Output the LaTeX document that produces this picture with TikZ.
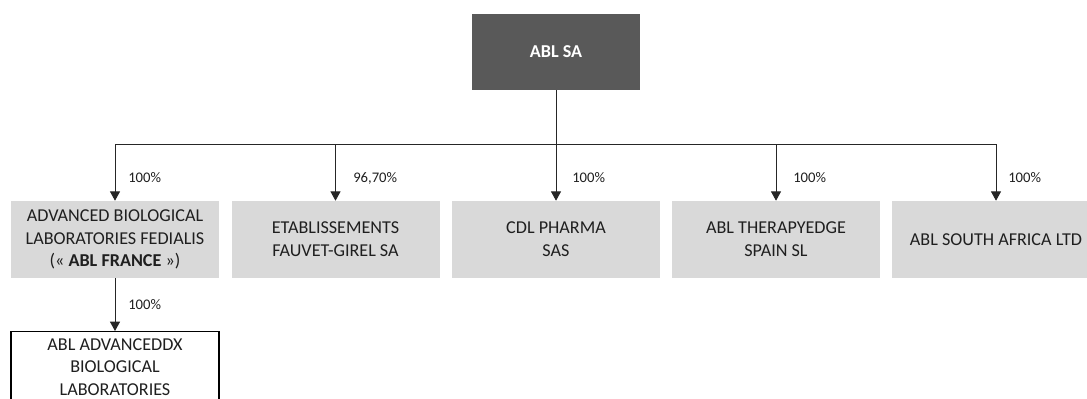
\documentclass[tikz,border=0pt]{standalone}
\usepackage{fontspec}
\setmainfont{Carlito}
\usetikzlibrary{arrows.meta}
\definecolor{topgrey}{HTML}{595959}
\definecolor{boxgrey}{HTML}{D9D9D9}
\definecolor{txt}{HTML}{1F1F1F}
\begin{document}
\begin{tikzpicture}[x=0.75pt,y=-0.75pt,
  company/.style={rectangle, fill=boxgrey, minimum width=156pt, minimum height=57.75pt,
    inner sep=0pt, align=center, text=txt, font=\fontsize{13.6}{17}\selectfont},
  topbox/.style={rectangle, fill=topgrey, minimum width=126pt, minimum height=57pt,
    inner sep=0pt, text=white, font=\fontsize{13.6}{17}\selectfont\bfseries},
  subbox/.style={rectangle, draw=black, line width=1.1pt, fill=white, minimum width=156pt,
    inner xsep=0pt, inner ysep=5pt, align=center, text=txt, font=\fontsize{13.6}{17}\selectfont},
  pct/.style={anchor=west, inner sep=0pt, text=txt, font=\fontsize{11}{13}\selectfont},
  link/.style={draw=black!85, line width=0.75pt},
  arr/.style={link, -{Triangle[width=7.5pt,length=7pt]}}]
\useasboundingbox (0,0) rectangle (1087,399);
\clip (0,0) rectangle (1087,399);

\node[topbox] (top) at (556,52) {ABL SA};

\node[company] (b1) at (115,239.5) {ADVANCED BIOLOGICAL\\LABORATORIES FEDIALIS\\(« \textbf{ABL FRANCE} »)};
\node[company] (b2) at (335.5,239.5) {ETABLISSEMENTS\\FAUVET-GIREL SA};
\node[company] (b3) at (556,239.5) {CDL PHARMA\\SAS};
\node[company] (b4) at (776,239.5) {ABL THERAPYEDGE\\SPAIN SL};
\node[company] (b5) at (996,239.5) {ABL SOUTH AFRICA LTD};

\node[subbox, anchor=north] (b6) at (115,331) {ABL ADVANCEDDX\\BIOLOGICAL\\LABORATORIES\\\strut};

\coordinate (bus) at (556,145);

\draw[link] (top.south) -- (bus);
\draw[arr] (bus) -| (b1.north);
\draw[arr] (bus) -| (b2.north);
\draw[arr] (bus) -- (b3.north);
\draw[arr] (bus) -| (b4.north);
\draw[arr] (bus) -| (b5.north);
\draw[arr] (b1.south) -- (b6.north);

\node[pct] (p1) at (128,178) {100\%};
\node[pct] (p2) at (353,178) {96,70\%};
\node[pct] (p3) at (572,178) {100\%};
\node[pct] (p4) at (793,178) {100\%};
\node[pct] (p5) at (1008,178) {100\%};
\node[pct] (p6) at (128,305) {100\%};
\end{tikzpicture}
\end{document}
